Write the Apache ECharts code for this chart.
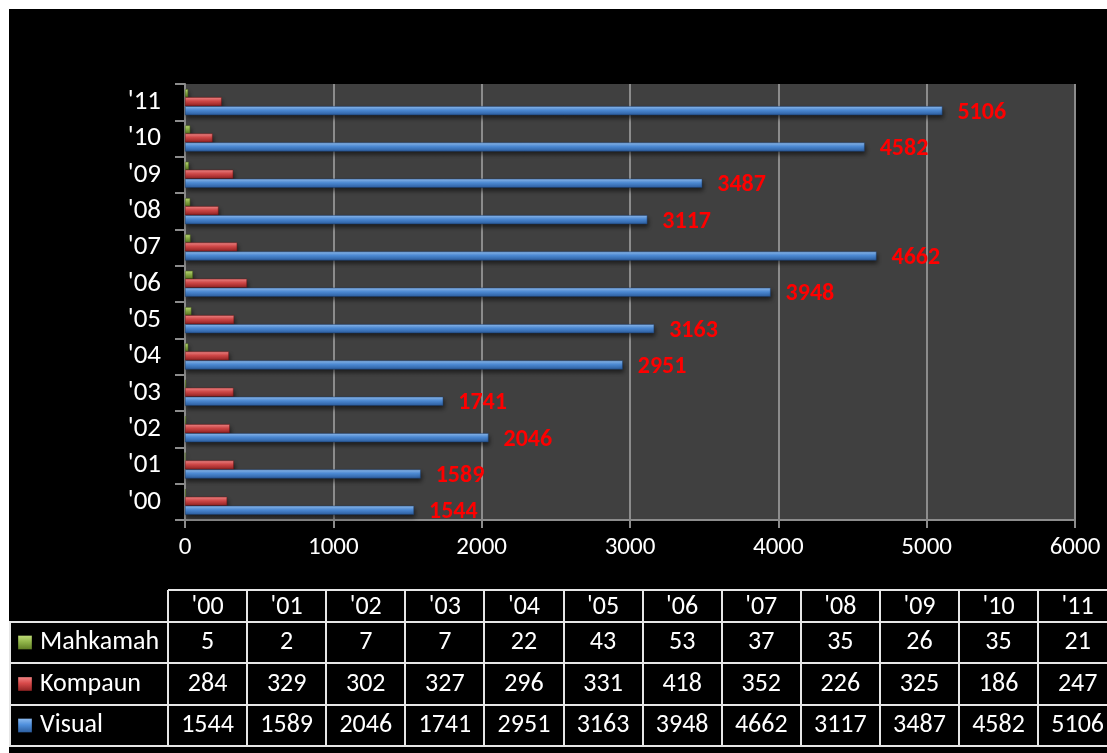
<!DOCTYPE html>
<html lang="en">
<head>
    <meta charset="UTF-8">
    <title>Mahkamah / Kompaun / Visual</title>
    <script type="text/javascript" src="https://cdn.jsdelivr.net/npm/echarts@6/dist/echarts.min.js"></script>
    <style>
        html, body { margin: 0; padding: 0; background: #fff; }
        #main { position: absolute; left: 9px; top: 9px; width: 1098px; height: 744px; }
    </style>
</head>
<body>
    <div id="main"></div>
    <script type="text/javascript">

var categories = ["'00", "'01", "'02", "'03", "'04", "'05", "'06", "'07", "'08", "'09", "'10", "'11"];
var mahkamah = [5, 2, 7, 7, 22, 43, 53, 37, 35, 26, 35, 21];
var kompaun = [284, 329, 302, 327, 296, 331, 418, 352, 226, 325, 186, 247];
var visual = [1544, 1589, 2046, 1741, 2951, 3163, 3948, 4662, 3117, 3487, 4582, 5106];
var xTicks = [0, 1000, 2000, 3000, 4000, 5000, 6000];

var FONT = 'Carlito, Lato, "Open Sans", sans-serif';

var chartDom = document.getElementById('main');
var myChart = echarts.init(chartDom);
var option;

function grad(top, mid, bottom) {
    return new echarts.graphic.LinearGradient(0, 0, 0, 1, [
        { offset: 0, color: top },
        { offset: 0.45, color: mid },
        { offset: 1, color: bottom }
    ]);
}

var colors = {
    mahkamah: grad('#c3df7c', '#92b64a', '#5c7a22'),
    kompaun: grad('#f58a8a', '#d84a4a', '#8c2020'),
    visual: grad('#92bff2', '#4f8fdc', '#2a5a9a')
};

// table drawn as graphic elements
var tableLeft = 159, colW = 79.1;
var rowY = [581, 613, 654, 696, 737];
var rowNames = ['Mahkamah', 'Kompaun', 'Visual'];
var rowData = [mahkamah, kompaun, visual];
var rowColors = [colors.mahkamah, colors.kompaun, colors.visual];
var lineStyle = { stroke: '#e6e6e6', lineWidth: 2 };
var graphics = [];

graphics.push({ type: 'line', shape: { x1: tableLeft, y1: rowY[0], x2: 1098, y2: rowY[0] }, style: lineStyle });
for (var r = 1; r < rowY.length; r++) {
    graphics.push({ type: 'line', shape: { x1: 0, y1: rowY[r], x2: 1098, y2: rowY[r] }, style: lineStyle });
}
graphics.push({ type: 'line', shape: { x1: 1, y1: rowY[1], x2: 1, y2: rowY[4] }, style: lineStyle });
for (var c = 0; c <= categories.length; c++) {
    var xx = Math.round(tableLeft + c * colW);
    graphics.push({ type: 'line', shape: { x1: xx, y1: rowY[0], x2: xx, y2: rowY[4] }, style: lineStyle });
}
var cellFont = '26px ' + FONT;
categories.forEach(function (cat, i) {
    graphics.push({
        type: 'text',
        x: tableLeft + (i + 0.5) * colW,
        y: (rowY[0] + rowY[1]) / 2 + 1,
        style: { text: cat, fill: '#fff', font: cellFont, textAlign: 'center', textVerticalAlign: 'middle' }
    });
});
rowNames.forEach(function (name, r) {
    var cy = (rowY[r + 1] + rowY[r + 2]) / 2;
    graphics.push({
        type: 'rect',
        shape: { x: 9, y: cy - 7, width: 14, height: 14 },
        style: { fill: rowColors[r], stroke: 'rgba(0,0,0,0.35)', lineWidth: 1 }
    });
    graphics.push({
        type: 'text',
        x: 31,
        y: cy,
        style: { text: name, fill: '#fff', font: cellFont, textAlign: 'left', textVerticalAlign: 'middle' }
    });
    rowData[r].forEach(function (v, i) {
        graphics.push({
            type: 'text',
            x: tableLeft + (i + 0.5) * colW,
            y: cy,
            style: { text: String(v), fill: '#fff', font: cellFont, textAlign: 'center', textVerticalAlign: 'middle' }
        });
    });
});

var barShadow = { shadowColor: 'rgba(0,0,0,0.55)', shadowBlur: 4, shadowOffsetY: 3, shadowOffsetX: 1 };

option = {
    backgroundColor: '#000',
    animation: false,
    grid: {
        left: 176,
        top: 75,
        width: 890,
        height: 436,
        show: true,
        backgroundColor: '#404040',
        borderWidth: 0
    },
    xAxis: {
        type: 'value',
        min: 0,
        max: 6000,
        interval: 1000,
        axisLine: { show: true, lineStyle: { color: '#8c8c8c', width: 2 } },
        axisTick: { show: true, length: 8, lineStyle: { color: '#8c8c8c', width: 2 } },
        splitLine: { show: true, lineStyle: { color: '#8c8c8c', width: 2 } },
        axisLabel: {
            color: '#fff',
            fontSize: 25,
            fontFamily: FONT,
            margin: 15,
            formatter: function (v) { return xTicks.indexOf(v) >= 0 ? String(v) : ''; }
        }
    },
    yAxis: {
        type: 'category',
        data: categories,
        axisLine: { show: true, lineStyle: { color: '#8c8c8c', width: 2 } },
        axisTick: { show: true, length: 10, lineStyle: { color: '#8c8c8c', width: 2 } },
        splitLine: { show: false },
        axisLabel: { color: '#fff', fontSize: 27, fontFamily: FONT, margin: 24 }
    },
    series: [
        {
            name: 'Mahkamah',
            type: 'bar',
            data: mahkamah,
            barWidth: 8,
            barGap: '0%',
            barCategoryGap: '25%',
            itemStyle: Object.assign({ color: colors.mahkamah, borderColor: '#4b6418', borderWidth: 0.5 }, barShadow)
        },
        {
            name: 'Kompaun',
            type: 'bar',
            data: kompaun,
            barWidth: 9,
            barGap: '0%',
            itemStyle: Object.assign({ color: colors.kompaun, borderColor: '#6e1414', borderWidth: 0.5 }, barShadow)
        },
        {
            name: 'Visual',
            type: 'bar',
            data: visual,
            barWidth: 9,
            barGap: '0%',
            itemStyle: Object.assign({ color: colors.visual, borderColor: '#1d3f6e', borderWidth: 0.5 }, barShadow),
            label: {
                show: true,
                position: 'right',
                distance: 15,
                color: '#ff0000',
                fontWeight: 'bold',
                fontSize: 24,
                fontFamily: FONT,
                offset: [0, 2]
            }
        }
    ],
    graphic: graphics
};

option && myChart.setOption(option);
    </script>
</body>
</html>
